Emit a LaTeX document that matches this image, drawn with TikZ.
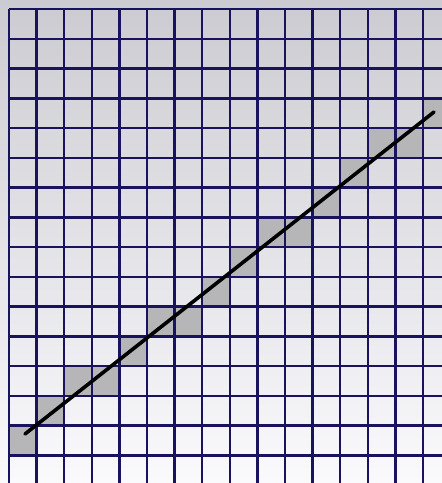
\documentclass[tikz,border=0pt]{standalone}
\definecolor{gridnavy}{RGB}{24,18,95}
\definecolor{bgtop}{RGB}{203,203,209}
\definecolor{bgbot}{RGB}{250,250,253}
\definecolor{cellgray}{RGB}{182,182,185}
\tikzset{
  gridline/.style={gridnavy, line width=2.5pt},
  shadedcell/.style={fill=cellgray},
  rasterline/.style={black, line width=3.6pt, line cap=round}
}
\begin{document}
\begin{tikzpicture}[x=1pt,y=-1pt]
  \useasboundingbox (0,0) rectangle (442,483);
  \shade[top color=bgtop, bottom color=bgbot] (0,0) rectangle (442,483);
  \begin{scope}
    \clip (0,0) rectangle (442,483);
    % shaded (rasterised) cells
    \foreach \c/\r in {0/14,1/13,2/12,3/12,4/11,5/10,6/10,7/9,8/8,9/7,10/7,11/6,12/5,13/4,14/4,15/3}{
      \fill[shadedcell] ({9+27.6*\c},{9+29.75*\r}) rectangle ({9+27.6*(\c+1)},{9+29.75*(\r+1)});
    }
    % grid
    \foreach \c in {0,...,16}{
      \draw[gridline] ({9+27.6*\c},9) -- ({9+27.6*\c},490);
    }
    \foreach \r in {0,...,16}{
      \draw[gridline] (9,{9+29.75*\r}) -- (450,{9+29.75*\r});
    }
  \end{scope}
  \coordinate (lineA) at (25,434);
  \coordinate (lineB) at (434,112);
  \draw[rasterline] (lineA) -- (lineB);
\end{tikzpicture}
\end{document}
